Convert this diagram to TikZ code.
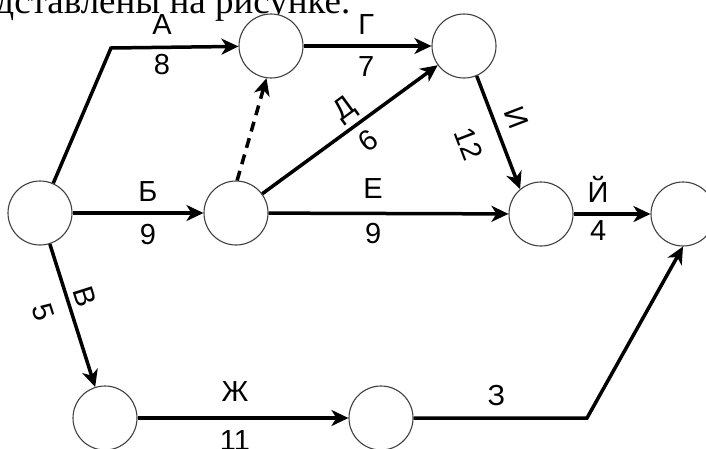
\documentclass[tikz,border=0pt]{standalone}
\usepackage{fontspec}
\setmainfont{Liberation Serif}
\newfontfamily\lblfamily{Liberation Sans}
\usetikzlibrary{arrows.meta}
\begin{document}
\begin{tikzpicture}[x=1pt,y=-1pt,
  ev/.style={circle, draw=black!75, line width=1.1pt, fill=white, minimum size=64pt, inner sep=0pt},
  act/.style={line width=3.5pt, -{Stealth[length=17pt,width=16pt,inset=5pt]}},
  dummy/.style={act, dash pattern=on 10pt off 7pt},
  lbl/.style={font=\lblfamily\fontsize{29pt}{29pt}\selectfont, inner sep=0pt, text height=20.8pt, text depth=0pt},
  ttl/.style={font=\fontsize{37pt}{37pt}\selectfont, inner sep=0pt, anchor=base east}
]
\path[use as bounding box] (0,0) rectangle (706,448);
\fill[white] (0,0) rectangle (706,448);
\clip (0,0) rectangle (706,448);

\node[ttl] (title) at (350.5,13.5) {представлены на рисунке.};

\node[ev] (n1) at (40,213) {};
\node[ev] (n2) at (271,46) {};
\node[ev] (n3) at (464,46) {};
\node[ev] (n4) at (236,213) {};
\node[ev] (n5) at (541,214) {};
\node[ev] (n6) at (683,214) {};
\node[ev] (n7) at (105,418) {};
\node[ev] (n8) at (381,418) {};

\coordinate (cA) at (111,48);
\coordinate (cZ) at (587,418);

\draw[act] (n1.66) -- (cA) -- node[lbl,pos=0.4,above=11.6pt] (lA) {А} node[lbl,pos=0.4,below=5pt] (dA) {8} (n2);
\draw[act] (n2) -- node[lbl,pos=0.49,above=10pt] (lG) {Г} node[lbl,pos=0.49,below=8pt] (dG) {7} (n3);
\draw[act] (n1) -- node[lbl,pos=0.576,above=10pt] (lB) {Б} node[lbl,pos=0.576,below=9pt] (dB) {9} (n4);
\draw[act] (n4) -- node[lbl,pos=0.436,above=13pt] (lE) {Е} node[lbl,pos=0.436,below=7pt] (dE) {9} (n5);
\draw[act] (n5) -- node[lbl,pos=0.32,above=10pt] (lY) {Й} node[lbl,pos=0.32,below=4pt] (dY) {4} (n6);
\draw[act] (n7) -- node[lbl,pos=0.462,above=15pt] (lZh) {Ж} node[lbl,pos=0.462,below=10pt] (dZh) {11} (n8);
\draw[act] (n8) -- node[lbl,pos=0.477,above=10.5pt] (lZ) {З} (cZ) -- (n6.south);
\draw[act] (n4) -- node[lbl,sloped,pos=0.535,above=10pt] (lD) {Д} node[lbl,sloped,pos=0.535,below=7pt] (dD) {6} (n3);
\draw[act] (n3.-67) -- node[lbl,sloped,pos=0.44,above=10pt] (lI) {И} node[lbl,sloped,pos=0.5,below=19.5pt] (dI) {12} (n5.130);
\draw[act] (n1) -- node[lbl,sloped,pos=0.405,above=6pt] (lV) {В} node[lbl,sloped,pos=0.42,below=14pt] (dV) {5} (n7);
\draw[dummy] (n4.88) -- (n2.-98);
\end{tikzpicture}
\end{document}
